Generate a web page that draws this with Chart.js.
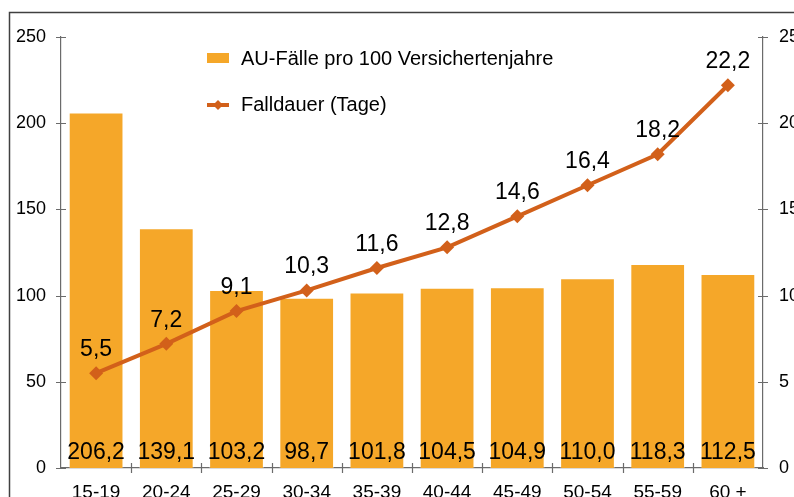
<!DOCTYPE html>
<html>
<head>
<meta charset="utf-8">
<script src="https://cdn.jsdelivr.net/npm/chart.js@4"></script>
<style>
  body { margin: 0; background: #fff; }
  #wrap { width: 794px; height: 497px; }
</style>
</head>
<body>
<div id="wrap"><canvas id="chart"></canvas></div>
<script>
// Altersgruppen und Werte
const ageGroups = ['15-19', '20-24', '25-29', '30-34', '35-39', '40-44', '45-49', '50-54', '55-59', '60 +'];
const auCases = [206.2, 139.1, 103.2, 98.7, 101.8, 104.5, 104.9, 110.0, 118.3, 112.5];
const caseDuration = [5.5, 7.2, 9.1, 10.3, 11.6, 12.8, 14.6, 16.4, 18.2, 22.2];
const leftTicks = [0, 50, 100, 150, 200, 250];
const rightTicks = [0, 5, 10, 15, 20, 25];

const barColor = '#F5A729';
const lineColor = '#D2601A';
const axisColor = '#6b6b6b';
const fontFamily = 'Arial, "Liberation Sans", sans-serif';

function fmt(v) {
    return v.toFixed(1).replace('.', ',');
}

// frame, ticks, value labels and legend
const extras = {
    id: 'extras',
    beforeDraw(chart) {
        const ctx = chart.ctx;
        ctx.save();
        ctx.strokeStyle = '#404040';
        ctx.lineWidth = 1.5;
        ctx.beginPath();
        ctx.moveTo(9.5, 500);
        ctx.lineTo(9.5, 12.5);
        ctx.lineTo(800, 12.5);
        ctx.stroke();
        ctx.restore();
    },
    afterDraw(chart) {
        const ctx = chart.ctx;
        const area = chart.chartArea;
        const x = chart.scales.x, y = chart.scales.y, y1 = chart.scales.y1;
        ctx.save();
        ctx.strokeStyle = axisColor;
        ctx.lineWidth = 1.2;
        ctx.beginPath();
        leftTicks.forEach(t => {
            const py = Math.round(y.getPixelForValue(t)) + 0.5;
            ctx.moveTo(area.left - 5, py); ctx.lineTo(area.left + 5, py);
        });
        rightTicks.forEach(t => {
            const py = Math.round(y1.getPixelForValue(t)) + 0.5;
            ctx.moveTo(area.right - 5, py); ctx.lineTo(area.right + 5, py);
        });
        for (let i = 1; i < ageGroups.length; i++) {
            const px = Math.round((x.getPixelForValue(i - 1) + x.getPixelForValue(i)) / 2) + 0.5;
            ctx.moveTo(px, area.bottom - 5); ctx.lineTo(px, area.bottom + 5);
        }
        ctx.stroke();

        // Werte
        ctx.fillStyle = '#000';
        ctx.font = '23px ' + fontFamily;
        ctx.textAlign = 'center';
        ctx.textBaseline = 'alphabetic';
        chart.getDatasetMeta(0).data.forEach((bar, i) => {
            ctx.fillText(fmt(auCases[i]), bar.x, area.bottom - 9);
        });
        chart.getDatasetMeta(1).data.forEach((pt, i) => {
            ctx.fillText(fmt(caseDuration[i]), pt.x, pt.y - 17);
        });

        // Legende
        ctx.font = '20px ' + fontFamily;
        ctx.textAlign = 'left';
        ctx.textBaseline = 'middle';
        ctx.fillStyle = barColor;
        ctx.fillRect(207, 53, 22, 10);
        ctx.fillStyle = '#000';
        ctx.fillText(chart.data.datasets[0].label, 241, 59);
        ctx.strokeStyle = lineColor;
        ctx.lineWidth = 4;
        ctx.beginPath();
        ctx.moveTo(207, 105); ctx.lineTo(229, 105);
        ctx.stroke();
        ctx.fillStyle = lineColor;
        ctx.beginPath();
        ctx.moveTo(218, 100); ctx.lineTo(223, 105); ctx.lineTo(218, 110); ctx.lineTo(213, 105);
        ctx.closePath();
        ctx.fill();
        ctx.fillStyle = '#000';
        ctx.fillText(chart.data.datasets[1].label, 241, 105);
        ctx.restore();
    }
};

const ctx = document.getElementById('chart').getContext('2d');
const chart = new Chart(ctx, {
    type: 'bar',
    data: {
        labels: ageGroups,
        datasets: [{
            type: 'bar',
            label: 'AU-Fälle pro 100 Versichertenjahre',
            data: auCases,
            yAxisID: 'y',
            backgroundColor: barColor,
            borderColor: 'rgba(255,255,255,0.35)',
            borderWidth: 1,
            barPercentage: 0.78,
            categoryPercentage: 1,
            order: 1
        }, {
            type: 'line',
            label: 'Falldauer (Tage)',
            data: caseDuration,
            yAxisID: 'y1',
            borderColor: lineColor,
            backgroundColor: lineColor,
            borderWidth: 4,
            pointStyle: 'rectRot',
            pointRadius: 7,
            pointBorderWidth: 0,
            tension: 0,
            order: 0
        }]
    },
    options: {
        responsive: true,
        maintainAspectRatio: false,
        animation: false,
        layout: { padding: { top: 37, left: 0, right: 0, bottom: 0 } },
        plugins: {
            legend: { display: false },
            tooltip: { enabled: false }
        },
        scales: {
            x: {
                grid: { display: false, drawTicks: false },
                border: { color: axisColor, width: 1.2 },
                ticks: { color: '#000', font: { size: 19, family: fontFamily }, padding: 13, maxRotation: 0 },
                afterFit(s) { s.height = 29; }
            },
            y: {
                position: 'left',
                min: 0, max: 250,
                afterBuildTicks(s) { s.ticks = leftTicks.map(v => ({ value: v })); },
                grid: { display: false, drawTicks: false },
                border: { color: axisColor, width: 1.2 },
                ticks: { color: '#000', font: { size: 18, family: fontFamily }, padding: 15 },
                afterFit(s) { s.width = 61; }
            },
            y1: {
                position: 'right',
                min: 0, max: 25,
                afterBuildTicks(s) { s.ticks = rightTicks.map(v => ({ value: v })); },
                grid: { display: false, drawTicks: false },
                border: { color: axisColor, width: 1.2 },
                ticks: { color: '#000', font: { size: 18, family: fontFamily }, padding: 16 },
                afterFit(s) { s.width = 31; }
            }
        }
    },
    plugins: [extras]
});
</script>
</body>
</html>
